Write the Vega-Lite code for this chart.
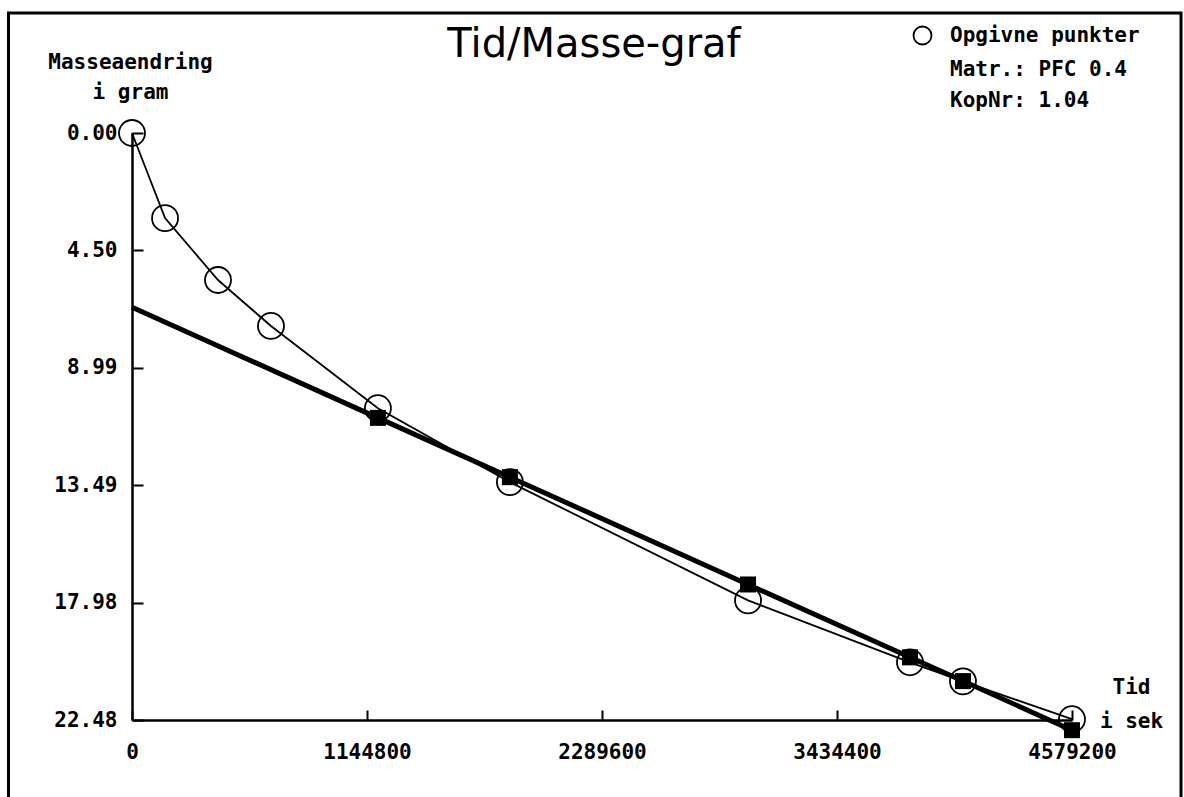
{
  "$schema": "https://vega.github.io/schema/vega-lite/v6.json",
  "width": 940,
  "height": 587,
  "autosize": {"type": "none"},
  "padding": {"left": 132, "top": 133, "right": 112, "bottom": 77},
  "background": "white",
  "title": {
    "text": "Tid/Masse-graf",
    "font": "DejaVu Sans",
    "fontSize": 40,
    "fontWeight": "normal",
    "color": "black",
    "anchor": "middle",
    "baseline": "alphabetic",
    "offset": -86,
    "dx": -8
  },
  "datasets": {
    "punkter": [
      {"t": 0, "m": 0},
      {"t": 161000, "m": 3.26},
      {"t": 419000, "m": 5.63},
      {"t": 677000, "m": 7.39},
      {"t": 1198000, "m": 10.54},
      {"t": 1841000, "m": 13.37},
      {"t": 3001000, "m": 17.90},
      {"t": 3790000, "m": 20.27},
      {"t": 4048000, "m": 21.00},
      {"t": 4579200, "m": 22.45}
    ],
    "fit": [
      {"t": 0, "m": 6.67},
      {"t": 1198000, "m": 10.91},
      {"t": 1841000, "m": 13.18},
      {"t": 3001000, "m": 17.29},
      {"t": 3790000, "m": 20.08},
      {"t": 4048000, "m": 20.99},
      {"t": 4579200, "m": 22.87}
    ]
  },
  "layer": [
    {
      "data": {"values": [{}]},
      "mark": {"type": "rect", "fill": null, "stroke": "black", "strokeWidth": 3},
      "encoding": {
        "x": {"datum": -601600, "type": "quantitative"},
        "x2": {"datum": 5110200},
        "y": {"datum": -4.6, "type": "quantitative"},
        "y2": {"datum": 27}
      }
    },
    {
      "data": {"name": "punkter"},
      "mark": {"type": "line", "color": "black", "strokeWidth": 1.8},
      "encoding": {
        "x": {
          "field": "t",
          "type": "quantitative",
          "scale": {"domain": [0, 4579200], "nice": false, "zero": false},
          "axis": {
            "title": ["Tid", "i sek"],
            "values": [0, 1144800, 2289600, 3434400, 4579200],
            "format": "d",
            "grid": false,
            "domainColor": "black",
            "domainWidth": 2.5,
            "tickColor": "black",
            "tickWidth": 2,
            "tickSize": -10,
            "labelPadding": 31,
            "labelFont": "DejaVu Sans Mono",
            "labelFontSize": 21,
            "labelFontWeight": "bold",
            "labelColor": "black",
            "labelFlush": false,
            "labelOverlap": false,
            "titleAngle": 0,
            "titleAlign": "center",
            "titleBaseline": "alphabetic",
            "titleX": 999,
            "titleY": -27,
            "titleLineHeight": 34,
            "titleFont": "DejaVu Sans Mono",
            "titleFontSize": 21,
            "titleFontWeight": "bold",
            "titleColor": "black"
          }
        },
        "y": {
          "field": "m",
          "type": "quantitative",
          "scale": {"domain": [0, 22.48], "reverse": true, "nice": false, "zero": false},
          "axis": {
            "title": ["Masseaendring", "i gram"],
            "values": [0, 4.496, 8.992, 13.488, 17.984, 22.48],
            "format": ".2f",
            "grid": false,
            "domainColor": "black",
            "domainWidth": 2.5,
            "tickColor": "black",
            "tickWidth": 2,
            "tickSize": -11,
            "labelPadding": 26,
            "labelFont": "DejaVu Sans Mono",
            "labelFontSize": 21,
            "labelFontWeight": "bold",
            "labelColor": "black",
            "labelFlush": false,
            "labelOverlap": false,
            "titleAngle": 0,
            "titleAlign": "center",
            "titleBaseline": "alphabetic",
            "titleX": -2,
            "titleY": -65,
            "titleLineHeight": 30,
            "titleFont": "DejaVu Sans Mono",
            "titleFontSize": 21,
            "titleFontWeight": "bold",
            "titleColor": "black"
          }
        }
      }
    },
    {
      "data": {"name": "fit"},
      "mark": {"type": "line", "color": "black", "strokeWidth": 5},
      "encoding": {
        "x": {"field": "t", "type": "quantitative"},
        "y": {"field": "m", "type": "quantitative"}
      }
    },
    {
      "data": {"name": "punkter"},
      "mark": {"type": "point", "filled": false, "color": "black", "strokeWidth": 1.8, "size": 676, "opacity": 1},
      "encoding": {
        "x": {"field": "t", "type": "quantitative"},
        "y": {"field": "m", "type": "quantitative"},
        "shape": {
          "datum": "Opgivne punkter",
          "scale": {"domain": ["Opgivne punkter", "Matr.: PFC 0.4", "KopNr: 1.04"], "range": ["circle", "M0,0Z", "M0,0Z"]},
          "legend": {
            "title": null,
            "orient": "none",
            "legendX": 780,
            "legendY": -108,
            "padding": 0,
            "symbolSize": 324,
            "symbolStrokeWidth": 1.8,
            "symbolStrokeColor": "black",
            "symbolFillColor": "transparent",
            "labelFont": "DejaVu Sans Mono",
            "labelFontSize": 21,
            "labelFontWeight": "bold",
            "labelColor": "black",
            "labelLimit": 400,
            "labelOffset": 17,
            "rowPadding": 9
          }
        }
      }
    },
    {
      "data": {"name": "fit"},
      "transform": [{"filter": "datum.t > 0"}],
      "mark": {"type": "point", "shape": "square", "filled": true, "color": "black", "size": 256, "opacity": 1},
      "encoding": {
        "x": {"field": "t", "type": "quantitative"},
        "y": {"field": "m", "type": "quantitative"}
      }
    }
  ],
  "config": {"view": {"stroke": null}}
}
